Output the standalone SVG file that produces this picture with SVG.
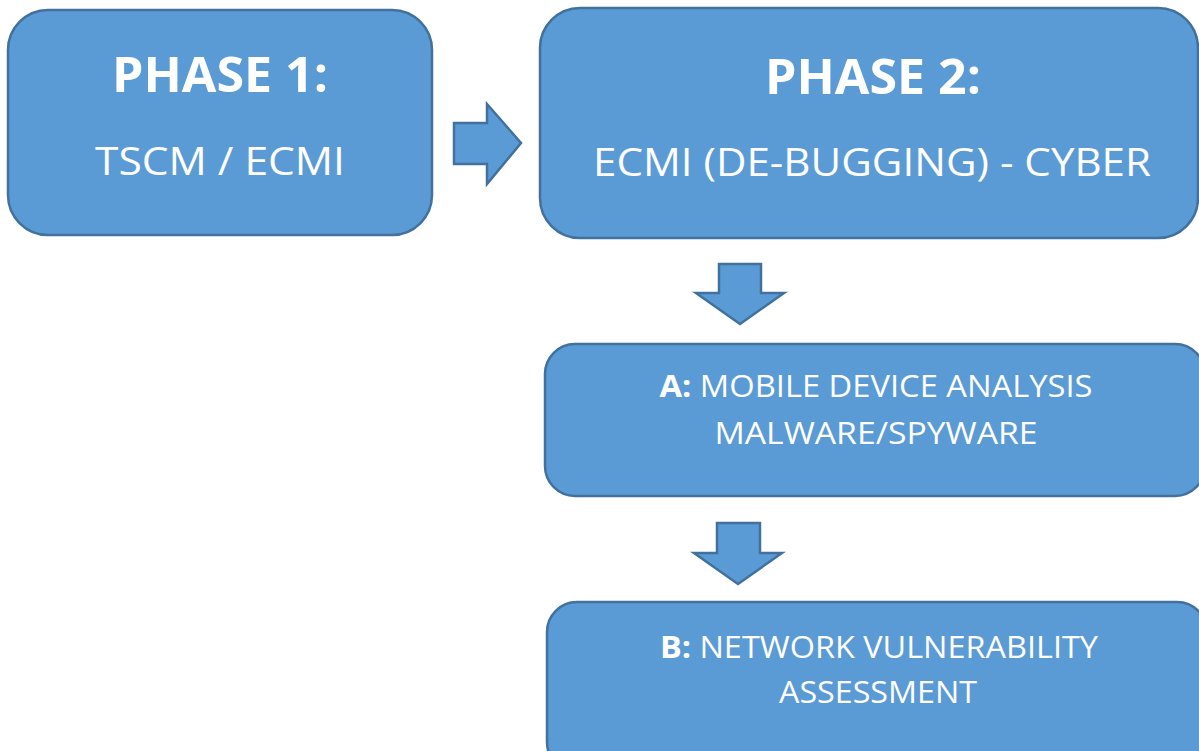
<svg xmlns="http://www.w3.org/2000/svg" width="1199" height="751" viewBox="0 0 1199 751">
<defs>
<style>
.box{fill:#5B9BD5;stroke:#41719C;stroke-width:2.5}
.arr{fill:#5B9BD5;stroke:#41719C;stroke-width:2.5;stroke-linejoin:miter}
text{font-family:"Open Sans","Noto Sans","Liberation Sans",sans-serif;fill:#FFFFFF;text-anchor:middle}
.b{font-weight:bold}
</style>
</defs>
<rect width="1199" height="751" fill="#FFFFFF"/>
<g id="phase1">
<rect class="box" x="8" y="10" width="424" height="225" rx="40" ry="40"/>
<text class="b" x="220" y="92" font-size="48" textLength="216" lengthAdjust="spacingAndGlyphs">PHASE 1:</text>
<text x="220" y="175" font-size="39" textLength="250" lengthAdjust="spacingAndGlyphs">TSCM / ECMI</text>
</g>
<g id="phase2">
<rect class="box" x="540" y="8" width="658" height="230" rx="40" ry="40"/>
<text class="b" x="873" y="94" font-size="48" textLength="216" lengthAdjust="spacingAndGlyphs">PHASE 2:</text>
<text x="872" y="176" font-size="39" textLength="558" lengthAdjust="spacingAndGlyphs">ECMI (DE-BUGGING) - CYBER</text>
</g>
<g id="stepA">
<rect class="box" x="545" y="344" width="660" height="152" rx="30" ry="30"/>
<text x="876" y="397" font-size="31" textLength="433" lengthAdjust="spacingAndGlyphs"><tspan class="b">A:</tspan> MOBILE DEVICE ANALYSIS</text>
<text x="876" y="444" font-size="31" textLength="323" lengthAdjust="spacingAndGlyphs">MALWARE/SPYWARE</text>
</g>
<g id="stepB">
<rect class="box" x="547" y="602" width="660" height="170" rx="30" ry="30"/>
<text x="879" y="658" font-size="31" textLength="438" lengthAdjust="spacingAndGlyphs"><tspan class="b">B:</tspan> NETWORK VULNERABILITY</text>
<text x="878" y="703" font-size="31" textLength="198" lengthAdjust="spacingAndGlyphs">ASSESSMENT</text>
</g>
<g id="connectors">
<polygon class="arr" points="454,123 487,123 487,104 521,143 487,184 487,164 454,164"/>
<polygon class="arr" points="719,264 761,264 761,293 784,293 740,324 696,293 719,293"/>
<polygon class="arr" points="717,523 760,523 760,553 782,553 738,584 694,553 717,553"/>
</g>
</svg>
